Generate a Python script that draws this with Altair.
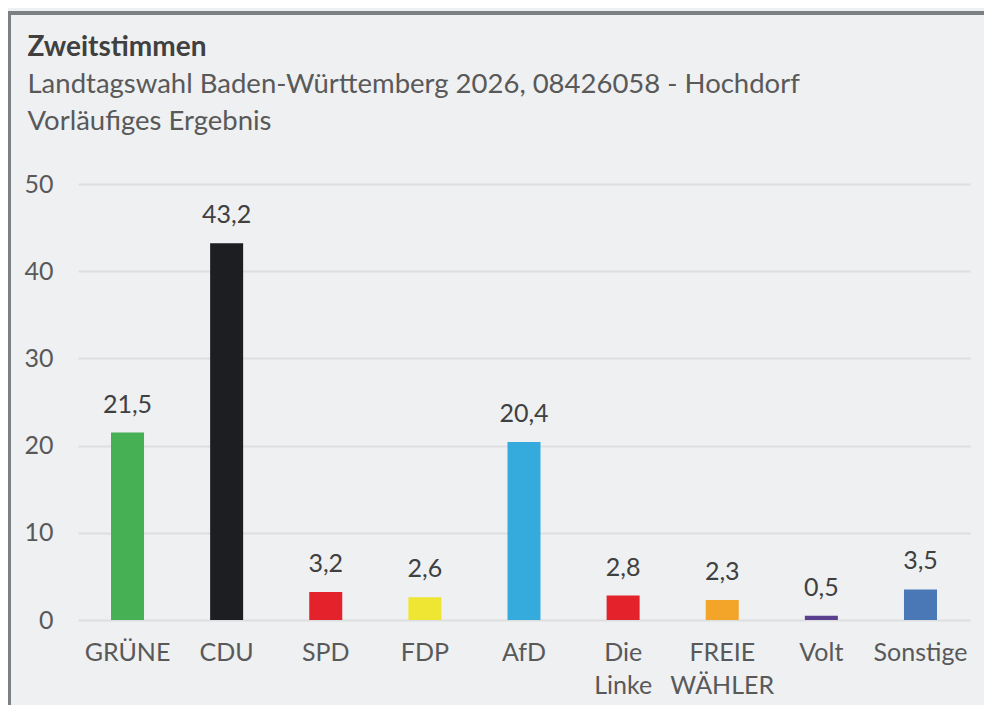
import altair as alt
import pandas as pd

parties = ["GRÜNE", "CDU", "SPD", "FDP", "AfD", "Die Linke", "FREIE WÄHLER", "Volt", "Sonstige"]
axis_labels = ["GRÜNE", "CDU", "SPD", "FDP", "AfD", "Die|Linke", "FREIE|WÄHLER", "Volt", "Sonstige"]
values = [21.5, 43.2, 3.2, 2.6, 20.4, 2.8, 2.3, 0.5, 3.5]
colors = ["#45b054", "#1c1e21", "#e3222b", "#efe533", "#35aadc", "#e3222b", "#f3a52a", "#5b3f8f", "#4a77b6"]
y_ticks = [0, 10, 20, 30, 40, 50]

df = pd.DataFrame({
    "party": parties,
    "axis_label": axis_labels,
    "value": values,
    "label": [f"{v:.1f}".replace(".", ",") for v in values],
})

FONT = "Lato"
BG = "#eef0f2"

x_enc = alt.X(
    "axis_label:N",
    sort=None,
    title=None,
    scale=alt.Scale(paddingInner=0.667, paddingOuter=0.333),
    axis=alt.Axis(
        labelExpr="split(datum.label, '|')",
        labelAngle=0,
        labelFontSize=25,
        labelColor="#595959",
        labelFont=FONT,
        labelPadding=20,
        labelLineHeight=33,
        labelBaseline="top",
        domain=False,
        ticks=False,
    ),
)

y_enc = alt.Y(
    "value:Q",
    title=None,
    scale=alt.Scale(domain=[0, 50], nice=False),
    axis=alt.Axis(
        values=y_ticks,
        labelFontSize=25,
        labelColor="#595959",
        labelFont=FONT,
        labelPadding=25,
        gridColor="#dcdee0",
        gridWidth=2,
        domain=False,
        ticks=False,
    ),
)

bars = alt.Chart(df).mark_bar().encode(
    x=x_enc,
    y=y_enc,
    color=alt.Color("party:N", scale=alt.Scale(domain=parties, range=colors), legend=None),
)

texts = alt.Chart(df).mark_text(
    baseline="alphabetic", dy=-20, fontSize=25, font=FONT, color="#404040"
).encode(
    x=alt.X("axis_label:N", sort=None),
    y="value:Q",
    text="label:N",
)

top_border = alt.Chart(df).mark_rule(color="#7d8083", strokeWidth=3).encode(
    x=alt.value(-70), x2=alt.value(906), y=alt.value(-171)
)
left_border = alt.Chart(df).mark_rule(color="#7d8083", strokeWidth=3).encode(
    x=alt.value(-69), y=alt.value(-171), y2=alt.value(521)
)

chart = (
    alt.layer(bars, texts, top_border, left_border)
    .properties(
        width=892,
        height=436,
        padding={"left": 70, "top": 176, "right": 14, "bottom": 85},
        autosize=alt.AutoSizeParams(type="none"),
        background=BG,
        title=alt.TitleParams(
            text="Zweitstimmen",
            subtitle=["Landtagswahl Baden-Württemberg 2026, 08426058 - Hochdorf", "Vorläufiges Ergebnis"],
            anchor="start",
            frame="bounds",
            font=FONT,
            fontSize=28,
            fontWeight="bold",
            color="#404040",
            subtitleFont=FONT,
            subtitleFontSize=27.5,
            subtitleColor="#595959",
            subtitleLineHeight=37,
            subtitlePadding=9,
            offset=0,
            dx=21,
            dy=124,
        ),
    )
    .configure_view(stroke=None)
)

chart.save("out.html", embed_options={"renderer": "svg", "actions": False})
